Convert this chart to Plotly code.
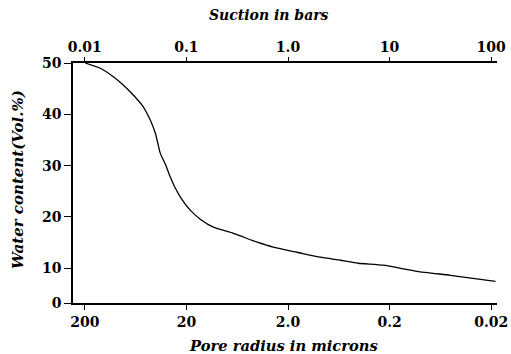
import plotly.graph_objects as go
import math

# Data (suction in bars, water content vol.%)
suction = [0.0101, 0.0142, 0.0191, 0.0239, 0.0300, 0.0376, 0.0441, 0.0495, 0.0553,
           0.0620, 0.0695, 0.0770, 0.0912, 0.109, 0.137, 0.184, 0.29, 0.499, 0.716,
           1.23, 2.08, 3.27, 4.92, 8.67, 18.7, 39.6, 110]
water = [50.0, 48.97, 47.33, 45.71, 43.76, 41.47, 38.88, 36.3, 32.44,
         30.3, 27.76, 25.8, 23.27, 21.32, 19.56, 18.0, 16.8, 15.07, 14.10,
         13.12, 12.15, 11.56, 10.98, 10.59, 9.41, 8.63, 7.46]
pore_radius = [2.0 / s for s in suction]  # microns (200 um <-> 0.01 bar)

suction_ticks = [0.01, 0.1, 1, 10, 100]
suction_labels = ["0.01", "0.1", "1.0", "10", "100"]
pore_ticks = [200, 20, 2, 0.2, 0.02]
pore_labels = ["200", "20", "2.0", "0.2", "0.02"]
y_ticks = [3.23, 10, 20, 30, 40, 50]
y_labels = ["0", "10", "20", "30", "40", "50"]

FONT = "DejaVu Serif"
tickfont = dict(family=FONT, size=14, color="black", weight="bold")


def titlefont(size):
    return dict(family=FONT, size=size, color="black", weight="bold", style="italic")


W, H = 511, 354
L, R, T, B = 73, 14, 63, 51

s_left, s_right = -2.116, 2.057

fig = go.Figure()
fig.add_trace(go.Scatter(x=pore_radius, y=water, mode="lines",
                         line=dict(color="black", width=1.3, shape="spline", smoothing=0.5),
                         xaxis="x", yaxis="y", hoverinfo="skip", showlegend=False))
fig.add_trace(go.Scatter(x=suction, y=water, mode="lines",
                         line=dict(color="rgba(0,0,0,0)", width=0),
                         xaxis="x2", yaxis="y", hoverinfo="skip", showlegend=False))

axis_common = dict(showgrid=False, zeroline=False, showline=True, linecolor="black",
                   linewidth=1.5, ticks="outside", tickwidth=1.3, tickcolor="black",
                   tickfont=tickfont, automargin=False)

fig.update_layout(
    width=W, height=H,
    margin=dict(l=L, r=R, t=T, b=B),
    paper_bgcolor="white", plot_bgcolor="white",
    xaxis=dict(type="log", range=[math.log10(2) - s_left, math.log10(2) - s_right],
               tickvals=pore_ticks, ticktext=pore_labels, ticklen=5,
               side="bottom", anchor="y", **axis_common),
    xaxis2=dict(type="log", range=[s_left, s_right], overlaying="x", side="top",
                anchor="y", tickvals=suction_ticks, ticktext=suction_labels,
                ticklen=4, **axis_common),
    yaxis=dict(range=[3.23, 50], tickvals=y_ticks, ticktext=y_labels, ticklen=7,
               **axis_common),
)

pw = W - L - R
ph = H - T - B


def px(x, y):
    # window pixel -> paper coords
    return (x - L) / pw, 1 - (y - T) / ph


for text, x, y, ang, size in [("Suction in bars", 269, 15, 0, 14),
                              ("Pore radius in microns", 283, 345, 0, 14.7),
                              ("Water content(Vol.%)", 18, 180, -90, 15)]:
    ax, ay = px(x, y)
    fig.add_annotation(text=text, x=ax, y=ay, xref="paper", yref="paper",
                       xanchor="center", yanchor="middle",
                       showarrow=False, font=titlefont(size), textangle=ang)

fig.write_html(
    "out.html",
    config={"displayModeBar": False},
    post_script="document.body.style.margin='0';document.body.style.overflow='hidden';",
)
